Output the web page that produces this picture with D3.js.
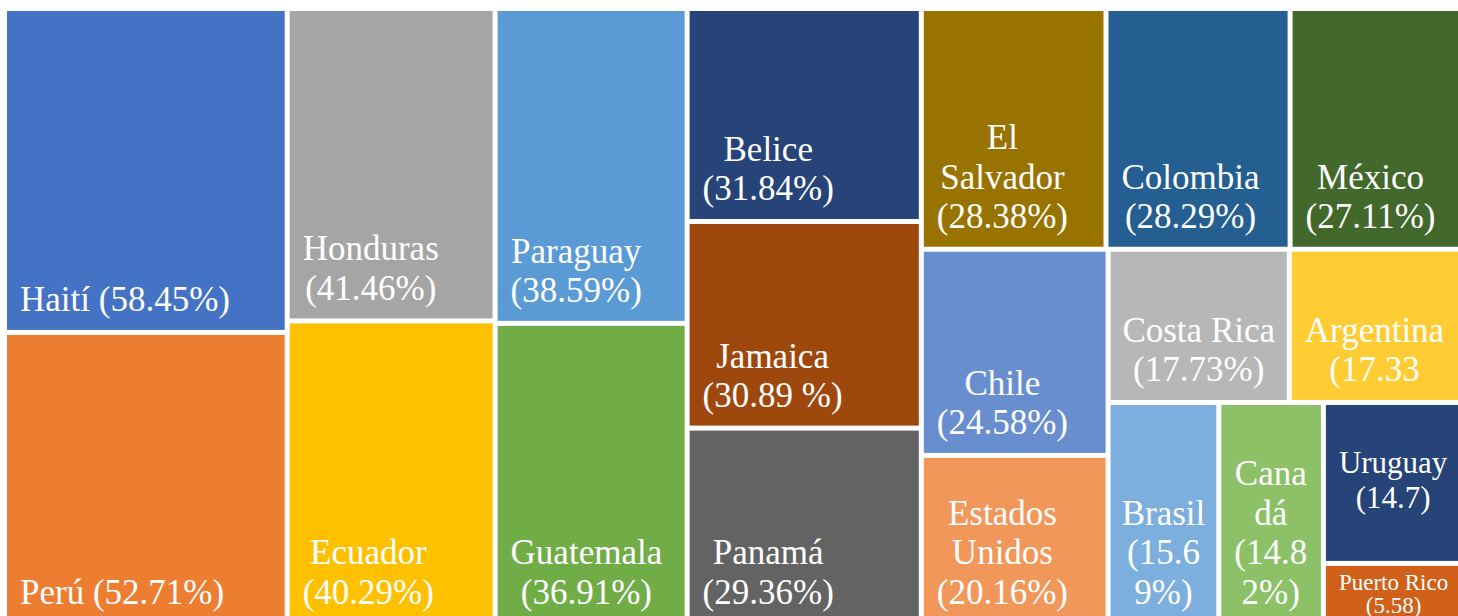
<!DOCTYPE html>
<html>
<head>
<meta charset="utf-8">
<script src="https://cdn.jsdelivr.net/npm/d3@7"></script>
<style>
  html, body { margin: 0; padding: 0; background: #ffffff; }
  svg { display: block; overflow: hidden; }
</style>
</head>
<body>
<div id="chart"></div>
<script>
// countries and their percentages, largest first (order matters for the layout)
const countries = ['Haití', 'Perú', 'Honduras', 'Ecuador', 'Paraguay', 'Guatemala',
  'Belice', 'Jamaica', 'Panamá', 'El Salvador', 'Colombia', 'México', 'Chile',
  'Estados Unidos', 'Costa Rica', 'Argentina', 'Brasil', 'Canadá', 'Uruguay', 'Puerto Rico'];

const values = [58.45, 52.71, 41.46, 40.29, 38.59, 36.91, 31.84, 30.89, 29.36, 28.38,
  28.29, 27.11, 24.58, 20.16, 17.73, 17.33, 15.69, 14.82, 14.7, 5.58];

// label text as it appears on each tile (line breaks included)
const labels = ['Haití (58.45%)', 'Perú (52.71%)', 'Honduras\n(41.46%)', 'Ecuador\n(40.29%)',
  'Paraguay\n(38.59%)', 'Guatemala\n(36.91%)', 'Belice\n(31.84%)', 'Jamaica\n(30.89 %)',
  'Panamá\n(29.36%)', 'El\nSalvador\n(28.38%)', 'Colombia\n(28.29%)', 'México\n(27.11%)',
  'Chile\n(24.58%)', 'Estados\nUnidos\n(20.16%)', 'Costa Rica\n(17.73%)', 'Argentina\n(17.33',
  'Brasil\n(15.6\n9%)', 'Cana\ndá\n(14.8\n2%)', 'Uruguay\n(14.7)\n', 'Puerto Rico\n(5.58)'];

// how many tiles go in each strip of the treemap
const strips = [2, 2, 2, 3, 3, 2, 2, 1, 1, 1, 1];

const colors = ['#4472C4', '#ED7D31', '#A5A5A5', '#FFC000', '#5B9BD5', '#70AD47',
  '#264478', '#9E480E', '#636363', '#997300', '#255E91', '#43682B', '#698ED0',
  '#F1975A', '#B7B7B7', '#FFCD33', '#7CAFDD', '#8CC168', '#264478', '#D0601A'];

const width = 1458, height = 616;
const margin = {left: 7, top: 11};
const mapW = 1457, mapH = 611;

// a few tiles use a different text size
const labelStyle = {
  'Uruguay': {size: 31, lh: 35, pad: 17.5},
  'Puerto Rico': {size: 23, lh: 23, pad: 9}
};
const baseStyle = {size: 35, lh: 39.5, pad: 18.5};

// strips laid along the shorter side of whatever space is left
function stripTile(parent, x0, y0, x1, y1) {
  const nodes = parent.children;
  let i = 0, rest = parent.value;
  strips.forEach(n => {
    const row = nodes.slice(i, i + n);
    const sum = d3.sum(row, d => d.value);
    const group = {children: row, value: sum};
    if (x1 - x0 >= y1 - y0) {
      const xm = x0 + (x1 - x0) * sum / rest;
      d3.treemapSlice(group, x0, y0, xm, y1);
      x0 = xm;
    } else {
      const ym = y0 + (y1 - y0) * sum / rest;
      d3.treemapDice(group, x0, y0, x1, ym);
      y0 = ym;
    }
    rest -= sum;
    i += n;
  });
}

const data = {
  children: countries.map((c, i) => ({name: c, value: values[i], label: labels[i], color: colors[i]}))
};

const root = d3.hierarchy(data).sum(d => d.value || 0);

d3.treemap()
  .size([mapW, mapH])
  .paddingInner(5)
  .tile(stripTile)(root);

const svg = d3.select('#chart').append('svg')
  .attr('width', width)
  .attr('height', height);

const g = svg.append('g')
  .attr('transform', `translate(${margin.left},${margin.top})`);

const cell = g.selectAll('g.cell')
  .data(root.leaves())
  .enter()
  .append('g')
  .attr('class', 'cell');

cell.append('rect')
  .attr('x', d => d.x0)
  .attr('y', d => d.y0)
  .attr('width', d => d.x1 - d.x0)
  .attr('height', d => d.y1 - d.y0)
  .attr('fill', d => d.data.color);

cell.each(function(d) {
  const st = labelStyle[d.data.name] || baseStyle;
  const lines = d.data.label.split('\n');
  const text = d3.select(this).append('text')
    .attr('fill', '#ffffff')
    .attr('font-family', '"Liberation Serif", "Times New Roman", serif')
    .attr('font-size', st.size)
    .attr('text-anchor', 'middle');

  const spans = lines.map(l => text.append('tspan').text(l || ' '));
  const maxW = d3.max(spans, s => s.node().getComputedTextLength());
  const tileW = d.x1 - d.x0;
  // block sits left with some padding; centred if it does not fit
  const cx = maxW > tileW - 26 ? (d.x0 + d.x1) / 2 : d.x0 + 13 + maxW / 2;
  const n = lines.length;
  spans.forEach((s, k) => {
    s.attr('x', cx)
      .attr('y', d.y1 - st.pad - (n - 1 - k) * st.lh);
  });
});
</script>
</body>
</html>
